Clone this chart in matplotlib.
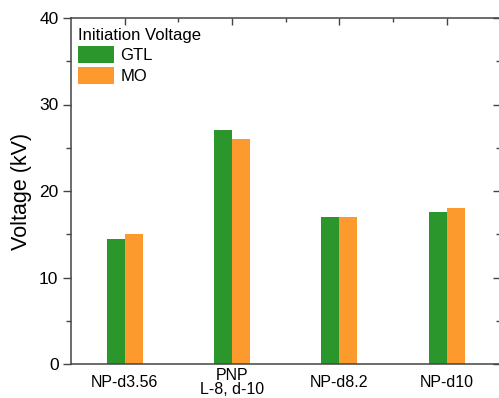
import numpy as np
import matplotlib as mpl
import matplotlib.pyplot as plt
from matplotlib.ticker import MultipleLocator, FixedLocator

mpl.rcParams['font.family'] = ['Liberation Sans', 'DejaVu Sans']

# data
categories = ['NP-d3.56', 'PNP\nL-8, d-10', 'NP-d8.2', 'NP-d10']
gtl = [14.4, 27.0, 17.0, 17.6]
mo = [15.0, 26.0, 17.0, 18.0]

green = '#2b962b'
orange = '#fd9a2e'
axcol = '#444444'

fig = plt.figure(figsize=(4.99, 3.98), dpi=100)
ax = fig.add_axes([71/499, 34/398, 429.5/499, 346/398])

x = np.arange(len(categories))
w = 0.168
ax.bar(x - w/2, gtl, width=w, color=green, label='GTL')
ax.bar(x + w/2, mo, width=w, color=orange, label='MO')

ax.set_xlim(-0.5, 3.5)
ax.set_ylim(0, 40)

for s in ax.spines.values():
    s.set_color(axcol)
    s.set_linewidth(1.1)

# y axis: left ticks out, right ticks in
ax.yaxis.set_major_locator(MultipleLocator(10))
ax.yaxis.set_minor_locator(MultipleLocator(5))
ax.tick_params(axis='y', which='major', direction='out', length=6, width=1,
               color=axcol, labelsize=12.5, pad=3)
ax.tick_params(axis='y', which='minor', direction='out', length=3.5, width=1, color=axcol)
rax = ax.secondary_yaxis('right')
rax.yaxis.set_major_locator(MultipleLocator(10))
rax.yaxis.set_minor_locator(MultipleLocator(5))
rax.tick_params(axis='y', which='major', direction='in', length=6, width=1,
                color=axcol, labelright=False)
rax.tick_params(axis='y', which='minor', direction='in', length=3.5, width=1, color=axcol)

# x axis: only top ticks, pointing in
ax.set_xticks(x)
ax.set_xticklabels(categories)
ax.xaxis.set_minor_locator(FixedLocator([0.5, 1.5, 2.5]))
ax.tick_params(axis='x', which='both', direction='in', bottom=False, top=True,
               color=axcol, width=1, labelsize=11.5, pad=13.5)
ax.tick_params(axis='x', which='major', length=5)
ax.tick_params(axis='x', which='minor', length=3)
for lab in ax.get_xticklabels():
    lab.set_va('center')
    lab.set_linespacing(0.95)

ax.set_ylabel('Voltage (kV)', fontsize=15.5)
ax.yaxis.label.set_va('center')
ax.yaxis.set_label_coords((22 - 71) / 429.5, 0.5)

leg = ax.legend(title='Initiation Voltage', loc='upper left',
                bbox_to_anchor=(0.016, 0.972), frameon=False, fontsize=12,
                title_fontsize=12, handlelength=2.15, handleheight=1.2,
                handletextpad=0.4, labelspacing=0.2, borderpad=0,
                borderaxespad=0, alignment='left')

fig.savefig('out.png', dpi=100)
